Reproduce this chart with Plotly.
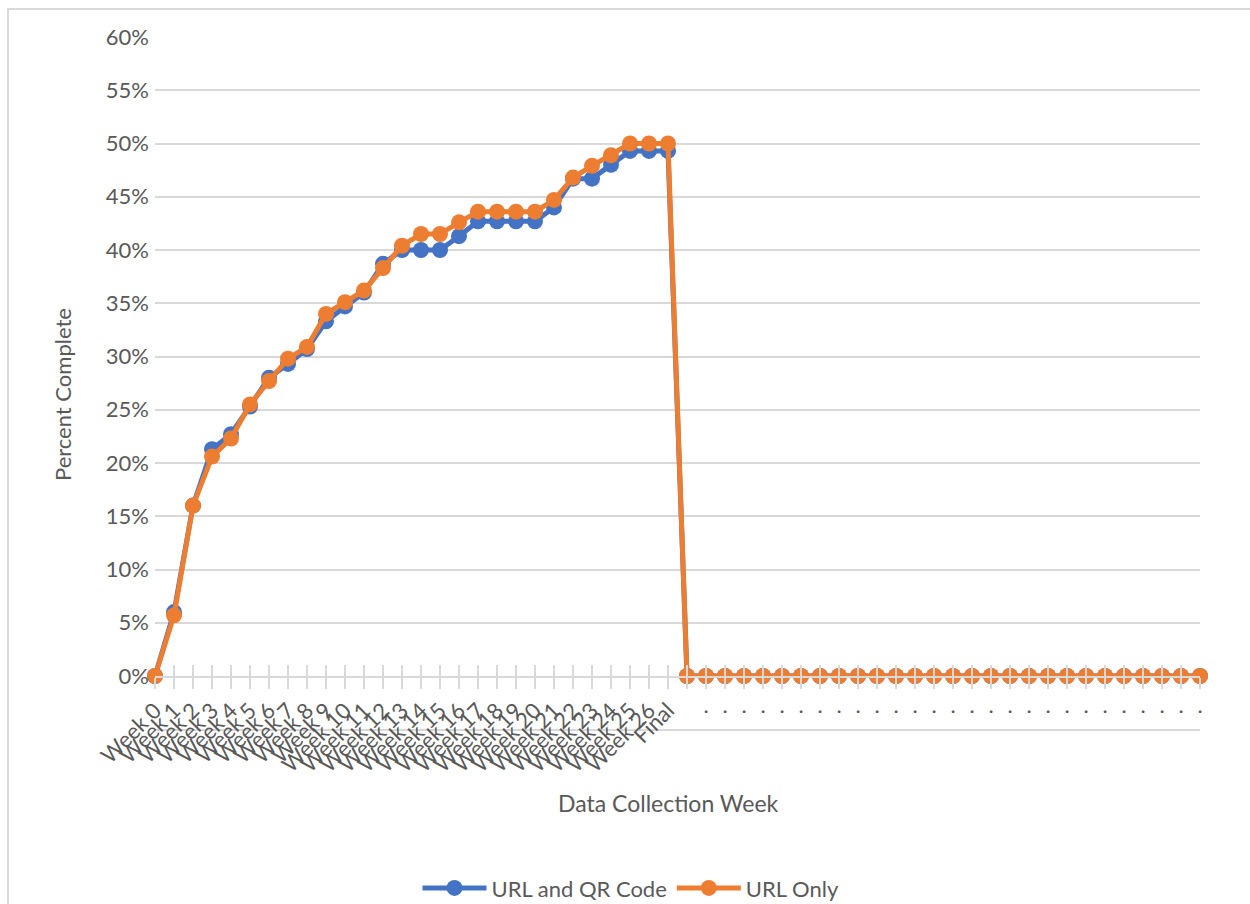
import plotly.graph_objects as go

# Weekly completion rates by distribution method
weeks = [f"Week {i}" for i in range(27)] + ["Final"]
url_and_qr = [0, 6.0, 16.0, 21.3, 22.7, 25.3, 28.0, 29.3, 30.7, 33.3, 34.7, 36.0, 38.7,
              40.0, 40.0, 40.0, 41.3, 42.7, 42.7, 42.7, 42.7, 44.0, 46.7, 46.7, 48.0,
              49.3, 49.3, 49.3]
url_only = [0, 5.7, 16.0, 20.6, 22.3, 25.5, 27.7, 29.8, 30.9, 34.0, 35.1, 36.2, 38.3,
            40.4, 41.5, 41.5, 42.6, 43.6, 43.6, 43.6, 43.6, 44.7, 46.8, 47.9, 48.9,
            50.0, 50.0, 50.0]
# empty trailing slots of the template (plotted as zero)
n_blank = 28
blank_labels = [""] + ["."] * (n_blank - 1)

labels = weeks + [""] * n_blank
dot_labels = [""] * len(weeks) + blank_labels
qr_vals = [v / 100 for v in url_and_qr] + [0] * n_blank
url_vals = [v / 100 for v in url_only] + [0] * n_blank
xs = list(range(len(labels)))

BLUE = "#4472C4"
ORANGE = "#ED7D31"
GRID = "#D9D9D9"
TXT = "#595959"
FONT = "Lato, Carlito, Calibri, sans-serif"
FS = 22

fig = go.Figure()
fig.add_trace(go.Scatter(
    x=xs, y=qr_vals, name="URL and QR Code", mode="lines+markers",
    line=dict(color=BLUE, width=5), marker=dict(color=BLUE, size=16),
    cliponaxis=False))
fig.add_trace(go.Scatter(
    x=xs, y=url_vals, name="URL Only", mode="lines+markers",
    line=dict(color=ORANGE, width=5), marker=dict(color=ORANGE, size=16),
    cliponaxis=False))

# companion axis: upward half of the cross tick marks and the second label row
fig.add_trace(go.Scatter(x=[xs[0]], y=[0], xaxis="x2", showlegend=False,
                         mode="markers", marker=dict(opacity=0), hoverinfo="skip"))

fig.update_layout(
    width=1250, height=904,
    margin=dict(l=155, r=50, t=37, b=228, autoexpand=False),
    paper_bgcolor="white", plot_bgcolor="white",
    font=dict(family=FONT, size=FS, color=TXT),
    showlegend=True,
    legend=dict(orientation="h", x=0.4555, xanchor="center", y=-0.332, yanchor="middle",
                font=dict(size=FS, color=TXT), itemwidth=64, traceorder="normal"),
    xaxis=dict(
        range=[0, len(xs) - 1], tickmode="array", tickvals=xs, ticktext=labels,
        tickangle=-45, ticks="outside", ticklen=11, tickwidth=2, tickcolor=GRID,
        showgrid=False, showline=True, linecolor=GRID, linewidth=2, zeroline=False,
        automargin=False, tickfont=dict(size=FS, color=TXT)),
    xaxis2=dict(
        overlaying="x", matches="x", anchor="y", side="bottom",
        range=[0, len(xs) - 1], tickmode="array", tickvals=xs, ticktext=dot_labels,
        tickangle=0, ticks="inside", ticklen=11, tickwidth=2, tickcolor=GRID,
        ticklabelstandoff=14, showgrid=False, showline=False, zeroline=False,
        automargin=False, tickfont=dict(size=FS, color=TXT)),
    yaxis=dict(
        range=[0, 0.6], dtick=0.05, tickformat=".0%", showgrid=True, gridcolor=GRID,
        gridwidth=2, zeroline=False, showline=False, ticks="", ticklabelstandoff=5,
        automargin=False, tickfont=dict(size=FS, color=TXT)),
    annotations=[
        dict(text="Percent Complete", xref="paper", yref="paper",
             x=(62 - 155) / 1045, y=(676 - 395) / 639, textangle=-90,
             showarrow=False, xanchor="center", yanchor="middle",
             font=dict(size=FS, color=TXT)),
        dict(text="Data Collection Week", xref="paper", yref="paper",
             x=(668 - 155) / 1045, y=(676 - 803) / 639, showarrow=False,
             xanchor="center", yanchor="middle", font=dict(size=23, color=TXT)),
    ],
    shapes=[
        # chart frame
        dict(type="rect", xref="paper", yref="paper",
             x0=(8 - 155) / 1045, x1=1.2, y0=-0.5, y1=(676 - 9) / 639,
             line=dict(color=GRID, width=2), fillcolor="rgba(0,0,0,0)", layer="below"),
        # rule beneath the category labels
        dict(type="line", xref="paper", yref="paper",
             x0=0, x1=1, y0=(676 - 730) / 639, y1=(676 - 730) / 639,
             line=dict(color=GRID, width=2), layer="below"),
    ],
)

fig.write_html("out.html")
